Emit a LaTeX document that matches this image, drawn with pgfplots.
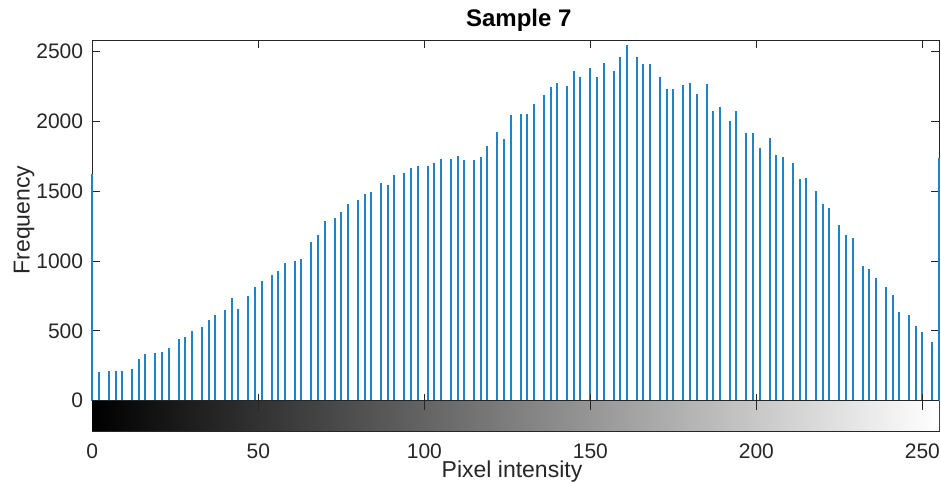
\documentclass[border=0pt]{standalone}
\usepackage{fontspec}
\setmainfont{Liberation Sans}
\usepackage{pgfplots}
\pgfplotsset{compat=1.18}
\definecolor{matblue}{rgb}{0,0.447,0.741}
\definecolor{axgray}{rgb}{0.15,0.15,0.15}
\begin{document}
\begin{tikzpicture}
\useasboundingbox (0,0) rectangle (941bp,483bp);
\begin{axis}[
  at={(92.3bp,52bp)}, anchor=south west,
  scale only axis, width=846.7bp, height=391bp,
  xmin=0, xmax=255, ymin=-217, ymax=2582,
  clip=false,
  xtick={0,50,100,150,200,250},
  ytick={0,500,1000,1500,2000,2500},
  extra y ticks={-108}, extra y tick labels={},
  tick align=inside, major tick length=8bp,
  axis line style={draw=axgray, line width=0.8bp},
  tick style={draw=axgray, line width=0.8bp},
  /pgf/number format/assume math mode=true,
  /pgf/number format/set thousands separator={},
  ticklabel style={font=\fontsize{21bp}{25bp}\selectfont, text=axgray},
  xticklabel style={inner sep=0pt, yshift=-13bp},
  yticklabel style={inner sep=0pt, xshift=-9bp},
]
\addplot[ycomb, draw=matblue!88!white, line width=2bp, mark=none] table {
x y
0 1626
2 204
5 215
7 215
9 215
12 230
14 297
16 337
19 342
21 349
23 380
26 440
28 455
30 502
33 524
35 577
37 612
40 651
42 732
44 658
47 749
49 816
51 854
54 900
56 928
58 983
61 997
63 1012
66 1138
68 1186
70 1287
73 1311
75 1354
77 1411
80 1437
82 1483
84 1492
87 1561
89 1547
91 1619
94 1631
96 1667
98 1679
101 1679
103 1698
105 1727
108 1727
110 1753
112 1720
115 1722
117 1746
119 1825
122 1925
124 1873
126 2047
129 2055
131 2055
133 2126
136 2191
138 2243
140 2274
143 2253
145 2363
147 2320
150 2380
152 2320
154 2420
157 2358
159 2457
161 2545
164 2461
166 2408
168 2413
171 2315
173 2231
175 2229
178 2258
180 2277
182 2198
185 2265
187 2071
189 2102
192 2002
194 2071
197 1915
199 1915
201 1811
204 1882
206 1758
208 1741
211 1700
213 1590
215 1595
218 1502
220 1406
222 1380
225 1255
227 1189
229 1167
232 964
234 945
236 875
239 811
241 758
243 634
246 615
248 536
250 491
253 421
255 1734
};
\shade[left color=black, right color=white] (axis cs:0,-217) rectangle (axis cs:255,0);
\draw[axgray, line width=1.2bp] (axis cs:0,0) -- (axis cs:255,0);
\draw[axgray, line width=0.8bp] (axis cs:50,-64) -- (axis cs:50,50);
\draw[axgray, line width=0.8bp] (axis cs:100,-64) -- (axis cs:100,50);
\draw[axgray, line width=0.8bp] (axis cs:150,-64) -- (axis cs:150,50);
\draw[axgray, line width=0.8bp] (axis cs:200,-64) -- (axis cs:200,50);
\draw[axgray, line width=0.8bp] (axis cs:250,-64) -- (axis cs:250,50);
\draw[axgray, line width=0.8bp] (axis cs:0,-217) -- (axis cs:255,-217);
\end{axis}
\node[anchor=base, text=black, font=\fontsize{24bp}{28bp}\selectfont\bfseries] at (518.8bp,456.5bp) {Sample 7};
\node[anchor=base, text=axgray, font=\fontsize{23bp}{27bp}\selectfont] at (512bp,6bp) {Pixel intensity};
\node[rotate=90, text=axgray, font=\fontsize{23bp}{27bp}\selectfont] at (24bp,263bp) {Frequency};
\end{tikzpicture}
\end{document}
